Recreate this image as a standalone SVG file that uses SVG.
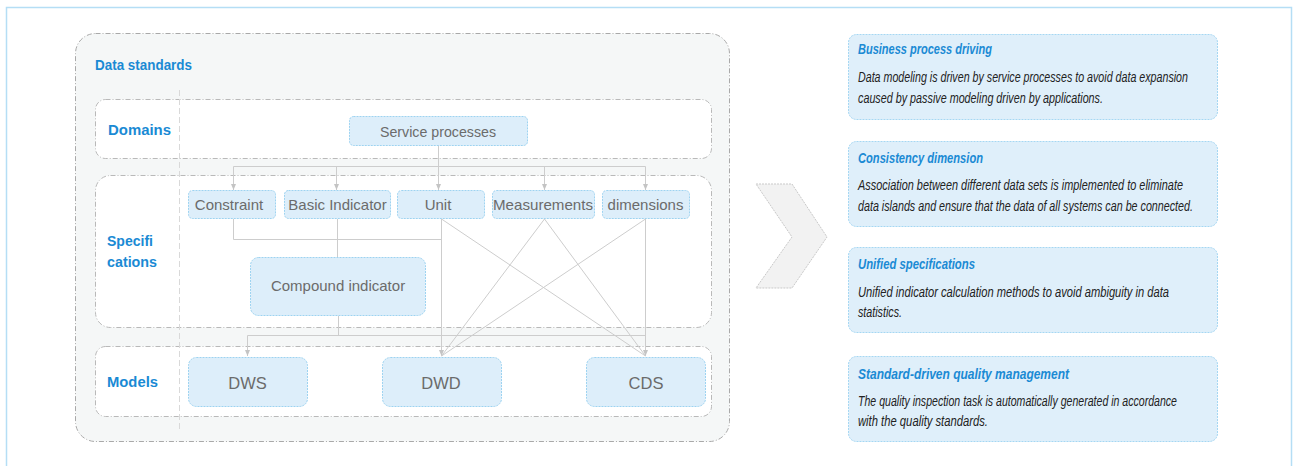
<svg xmlns="http://www.w3.org/2000/svg" width="1293" height="466" viewBox="0 0 1293 466">
<defs>
<style>
.frame{fill:#ffffff;stroke:#b5def5;stroke-width:1.5}
.outer{fill:#f5f7f7;stroke:#a9a9a9;stroke-width:1;stroke-dasharray:5 2 1 2}
.row{fill:#ffffff;stroke:#b9b9b9;stroke-width:1;stroke-dasharray:5 2 1 2}
.sep{stroke:#d9d9d9;stroke-width:1;stroke-dasharray:6 3;fill:none}
.box{fill:#ddeefa;stroke:#9dd3f1;stroke-width:1;stroke-dasharray:2 1}
.card{fill:#dfeffa;stroke:#a5d7f3;stroke-width:1;stroke-dasharray:2 1}
.lbl{font-family:"Liberation Sans",Arial,sans-serif;font-size:15px;fill:#6b6b6b;text-anchor:middle}
.big{font-size:16.5px}
.blue{font-family:"Liberation Sans",Arial,sans-serif;font-weight:bold;font-size:15px;fill:#1a8ad4}
.ttl{font-family:"Liberation Sans Narrow","Liberation Sans",Arial,sans-serif;font-style:italic;font-weight:bold;font-size:15px;fill:#1a8ad4}
.body{font-family:"Liberation Sans Narrow","Liberation Sans",Arial,sans-serif;font-style:italic;font-size:14px;fill:#222222}
.con{fill:none;stroke:#cdcdcd;stroke-width:1}
.chev{fill:#f2f2f2;stroke:#c9c9c9;stroke-width:1;stroke-dasharray:2 1}
</style>
<marker id="arr" viewBox="0 0 6 6" refX="6" refY="3" markerWidth="6" markerHeight="6" orient="auto" markerUnits="userSpaceOnUse">
<path d="M0,0.5 L6,3 L0,5.5 Z" fill="#c4c4c4"/>
</marker>
</defs>

<rect class="frame" x="6.5" y="7.5" width="1285" height="480"/>

<g id="data-standards">
<rect class="outer" x="75.5" y="33.5" width="654" height="408" rx="20"/>
<text class="blue" x="95" y="70" font-size="14" textLength="97" lengthAdjust="spacingAndGlyphs">Data standards</text>
</g>

<g id="domains-row">
<rect class="row" x="95.5" y="99.5" width="616" height="59" rx="10"/>
<text class="blue" x="108" y="135" textLength="63" lengthAdjust="spacingAndGlyphs">Domains</text>
</g>

<g id="specifications-row">
<rect class="row" x="95.5" y="175.5" width="616" height="152" rx="15"/>
<text class="blue" x="107" y="246" textLength="46" lengthAdjust="spacingAndGlyphs">Specifi</text>
<text class="blue" x="107" y="267" textLength="50" lengthAdjust="spacingAndGlyphs">cations</text>
</g>

<g id="models-row">
<rect class="row" x="95.5" y="346.5" width="616" height="70" rx="10"/>
<text class="blue" x="107" y="387" textLength="51" lengthAdjust="spacingAndGlyphs">Models</text>
</g>

<line class="sep" x1="179.5" y1="90" x2="179.5" y2="430"/>

<g id="connectors">
<path class="con" d="M438.5,145 V166.5"/>
<path class="con" d="M233.5,166.5 H645.5"/>
<path class="con" d="M233.5,166.5 V190" marker-end="url(#arr)"/>
<path class="con" d="M336.5,166.5 V190" marker-end="url(#arr)"/>
<path class="con" d="M438.5,166.5 V190" marker-end="url(#arr)"/>
<path class="con" d="M544.5,166.5 V190" marker-end="url(#arr)"/>
<path class="con" d="M645.5,166.5 V190" marker-end="url(#arr)"/>
<path class="con" d="M233.5,219 V239.5 H441.5"/>
<path class="con" d="M337.5,219 V257"/>
<path class="con" d="M338.5,316 V335.5"/>
<path class="con" d="M247.5,335.5 H645.5"/>
<path class="con" d="M247.5,335.5 V356" marker-end="url(#arr)"/>
<path class="con" d="M441.5,219 V356" marker-end="url(#arr)"/>
<path class="con" d="M645.5,219 V356" marker-end="url(#arr)"/>
<path class="con" d="M441.5,219 L645.5,356"/>
<path class="con" d="M544.5,219 L441.5,356"/>
<path class="con" d="M544.5,219 L645.5,356"/>
<path class="con" d="M645.5,219 L441.5,356"/>
</g>

<g id="service-processes">
<rect class="box" x="349.5" y="116.5" width="178" height="29" rx="4"/>
<text class="lbl" x="438" y="137" textLength="116" lengthAdjust="spacingAndGlyphs">Service processes</text>
</g>

<g id="constraint">
<rect class="box" x="188.5" y="190.5" width="87" height="28" rx="4"/>
<text class="lbl" x="229" y="210">Constraint</text>
</g>
<g id="basic-indicator">
<rect class="box" x="284.5" y="190.5" width="106" height="28" rx="4"/>
<text class="lbl" x="337.5" y="210">Basic Indicator</text>
</g>
<g id="unit">
<rect class="box" x="397.5" y="190.5" width="87" height="28" rx="4"/>
<text class="lbl" x="438" y="210">Unit</text>
</g>
<g id="measurements">
<rect class="box" x="492.5" y="190.5" width="102" height="28" rx="4"/>
<text class="lbl" x="543" y="210" textLength="100" lengthAdjust="spacingAndGlyphs">Measurements</text>
</g>
<g id="dimensions">
<rect class="box" x="602.5" y="190.5" width="87" height="28" rx="4"/>
<text class="lbl" x="645.5" y="210">dimensions</text>
</g>
<g id="compound-indicator">
<rect class="box" x="250.5" y="257.5" width="175" height="58" rx="8"/>
<text class="lbl" x="338" y="291" font-size="15.5">Compound indicator</text>
</g>

<g id="dws">
<rect class="box" x="188.5" y="357.5" width="119" height="49" rx="8"/>
<text class="lbl big" x="247.5" y="389">DWS</text>
</g>
<g id="dwd">
<rect class="box" x="382.5" y="357.5" width="119" height="49" rx="8"/>
<text class="lbl big" x="441" y="389">DWD</text>
</g>
<g id="cds">
<rect class="box" x="586.5" y="357.5" width="119" height="49" rx="8"/>
<text class="lbl big" x="646" y="389">CDS</text>
</g>

<g id="chevron">
<polygon class="chev" points="756,184 792,184 827,237 792,288 756,288 792,237"/>
</g>

<g id="card-business">
<rect class="card" x="848.5" y="34.5" width="369" height="85" rx="8"/>
<text class="ttl" x="858" y="54" textLength="134" lengthAdjust="spacingAndGlyphs">Business process driving</text>
<text class="body" x="858" y="82" textLength="330" lengthAdjust="spacingAndGlyphs">Data modeling is driven by service processes to avoid data expansion</text>
<text class="body" x="858" y="103" textLength="245" lengthAdjust="spacingAndGlyphs">caused by passive modeling driven by applications.</text>
</g>

<g id="card-consistency">
<rect class="card" x="848.5" y="141.5" width="369" height="85" rx="8"/>
<text class="ttl" x="858" y="163" textLength="125" lengthAdjust="spacingAndGlyphs">Consistency dimension</text>
<text class="body" x="858" y="190" textLength="325" lengthAdjust="spacingAndGlyphs">Association between different data sets is implemented to eliminate</text>
<text class="body" x="858" y="211" textLength="335" lengthAdjust="spacingAndGlyphs">data islands and ensure that the data of all systems can be connected.</text>
</g>

<g id="card-unified">
<rect class="card" x="848.5" y="247.5" width="369" height="85" rx="8"/>
<text class="ttl" x="858" y="269" textLength="117" lengthAdjust="spacingAndGlyphs">Unified specifications</text>
<text class="body" x="858" y="297" textLength="311" lengthAdjust="spacingAndGlyphs">Unified indicator calculation methods to avoid ambiguity in data</text>
<text class="body" x="858" y="317" textLength="44" lengthAdjust="spacingAndGlyphs">statistics.</text>
</g>

<g id="card-quality">
<rect class="card" x="848.5" y="356.5" width="369" height="85" rx="8"/>
<text class="ttl" x="858" y="379" textLength="211" lengthAdjust="spacingAndGlyphs">Standard-driven quality management</text>
<text class="body" x="858" y="406" textLength="319" lengthAdjust="spacingAndGlyphs">The quality inspection task is automatically generated in accordance</text>
<text class="body" x="858" y="426" textLength="130" lengthAdjust="spacingAndGlyphs">with the quality standards.</text>
</g>
</svg>
